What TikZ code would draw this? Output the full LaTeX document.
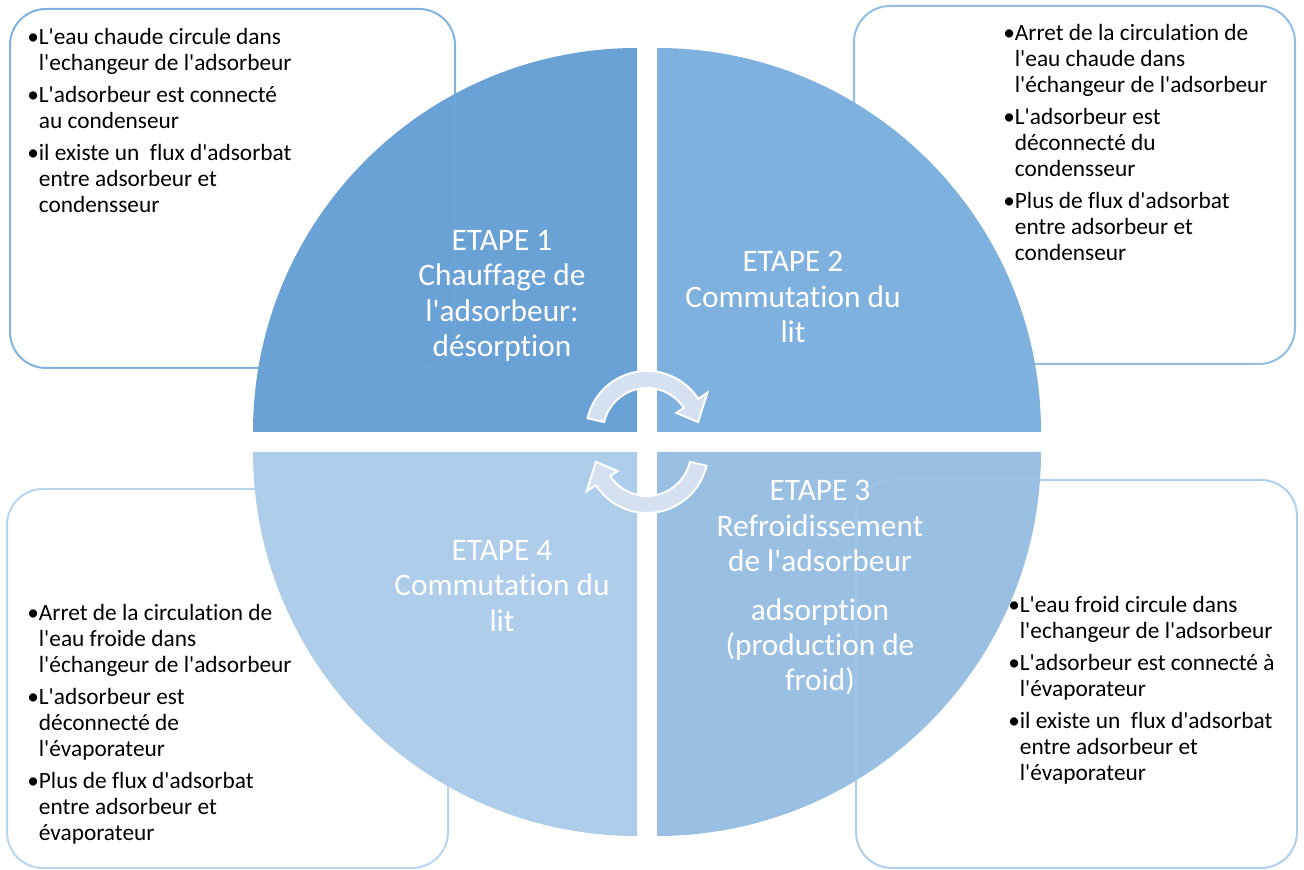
\documentclass[tikz,border=0pt]{standalone}
\usepackage{fontspec}
\setmainfont{Carlito}[Ligatures={TeXOff,NoCommon}]
\usetikzlibrary{positioning}
\definecolor{quadA}{HTML}{6AA2D6}
\definecolor{quadB}{HTML}{7EB1DD}
\definecolor{quadC}{HTML}{99C0E3}
\definecolor{quadD}{HTML}{ADCDEA}
\definecolor{lineA}{HTML}{6FA5D8}
\definecolor{lineB}{HTML}{80B2DD}
\definecolor{lineC}{HTML}{A3C6E7}
\definecolor{lineD}{HTML}{ADCEEB}
\definecolor{arrowfill}{HTML}{D5E1F1}
\newcommand{\pnt}{\textbullet}
\newcommand{\ind}{\phantom{\textbullet}}
\tikzset{
  steplabel/.style={text=white,align=center,inner sep=0pt,
    font=\fontsize{23.5}{26.5}\selectfont},
  infobox/.style={rounded corners=27pt,line width=1.5pt,draw opacity=0.85},
  infotext/.style={anchor=north west,inner sep=0pt,align=left,
    font=\fontsize{17.5}{19.5}\selectfont},
  cyclearrow/.style={fill=arrowfill,draw=white,line width=1.5pt}
}

\begin{document}
\begin{tikzpicture}[x=0.75pt,y=0.75pt]
  \useasboundingbox (0,0) rectangle (1304,870);
  % quarters of the cycle
  \fill[quadA] (637,438) -- (253,438) arc[start angle=180,end angle=90,radius=384] -- cycle;
  \fill[quadB] (657,438) -- (657,822) arc[start angle=90,end angle=0,radius=384] -- cycle;
  \fill[quadC] (657,418) -- (1041,418) arc[start angle=0,end angle=-90,radius=384] -- cycle;
  \fill[quadD] (637,418) -- (637,34) arc[start angle=270,end angle=180,radius=384] -- cycle;
  % side boxes
  \draw[infobox,draw=lineA] (10,502) rectangle (455,861);
  \draw[infobox,draw=lineB] (854,506) rectangle (1295,864);
  \draw[infobox,draw=lineC] (856,2) rectangle (1297,390);
  \draw[infobox,draw=lineD] (7,2) rectangle (448,381);
  % circular arrows
  \coordinate (c1) at (647,438);
  \coordinate (c2) at (647,418);
  \path[cyclearrow] ([shift={(167:61)}]c1) arc[start angle=167,end angle=33,radius=61]
    -- ([shift={(33:72)}]c1) -- ([shift={(11:52)}]c1) -- ([shift={(33:35)}]c1)
    -- ([shift={(33:44)}]c1) arc[start angle=33,end angle=167,radius=44] -- cycle;
  \path[cyclearrow] ([shift={(347:61)}]c2) arc[start angle=347,end angle=213,radius=61]
    -- ([shift={(213:72)}]c2) -- ([shift={(191:52)}]c2) -- ([shift={(213:35)}]c2)
    -- ([shift={(213:44)}]c2) arc[start angle=213,end angle=347,radius=44] -- cycle;
  % step labels
  \node[steplabel] (etape1) at (502,574) {ETAPE 1\\Chauffage de\\l'adsorbeur:\\désorption};
  \node[steplabel] (etape2) at (793,573) {ETAPE 2\\Commutation du\\lit};
  \node[steplabel] (etape3) at (820,282) {ETAPE 3\\Refroidissement\\de l'adsorbeur\\[10pt]adsorption\\(production de\\froid)};
  \node[steplabel] (etape4) at (502,284) {ETAPE 4\\Commutation du\\lit};
  % box texts
  \node[infotext] (txt1) at (27,842) {\pnt L'eau chaude circule dans\\\ind l'echangeur de l'adsorbeur\\[4.5pt]
    \pnt L'adsorbeur est connecté\\\ind au condenseur\\[4.5pt]
    \pnt il existe un~ flux d'adsorbat\\\ind entre adsorbeur et\\\ind condensseur};
  \node[infotext] (txt2) at (1003,846) {\pnt Arret de la circulation de\\\ind l'eau chaude dans\\\ind l'échangeur de l'adsorbeur\\[4.5pt]
    \pnt L'adsorbeur est\\\ind déconnecté du\\\ind condensseur\\[4.5pt]
    \pnt Plus de flux d'adsorbat\\\ind entre adsorbeur et\\\ind condenseur};
  \node[infotext] (txt3) at (1008,274) {\pnt L'eau froid circule dans\\\ind l'echangeur de l'adsorbeur\\[4.5pt]
    \pnt L'adsorbeur est connecté à\\\ind l'évaporateur\\[4.5pt]
    \pnt il existe un~ flux d'adsorbat\\\ind entre adsorbeur et\\\ind l'évaporateur};
  \node[infotext] (txt4) at (27,266) {\pnt Arret de la circulation de\\\ind l'eau froide dans\\\ind l'échangeur de l'adsorbeur\\[4.5pt]
    \pnt L'adsorbeur est\\\ind déconnecté de\\\ind l'évaporateur\\[4.5pt]
    \pnt Plus de flux d'adsorbat\\\ind entre adsorbeur et\\\ind évaporateur};
\end{tikzpicture}
\end{document}
